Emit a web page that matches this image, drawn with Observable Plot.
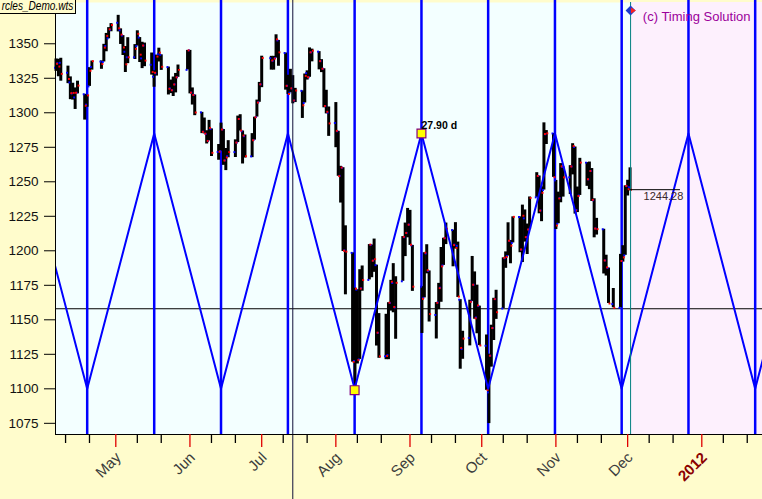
<!DOCTYPE html>
<html><head><meta charset="utf-8">
<script src="https://cdn.jsdelivr.net/npm/d3@7"></script>
<script src="https://cdn.jsdelivr.net/npm/@observablehq/plot@0.6"></script>
<style>
html,body{margin:0;padding:0;background:#FFFCCC;}
#wrap{position:relative;width:762px;height:499px;overflow:hidden;}
#file{position:absolute;left:0;top:0;width:75px;height:13px;border-right:1px solid #000;border-bottom:1px solid #000;background:#FFFCCC;overflow:hidden;font:italic 12px "Liberation Sans",Arial,sans-serif;line-height:12px;white-space:nowrap;color:#000;}
#file span{position:absolute;right:2px;top:0;transform:scaleX(0.84);transform-origin:right center;}
</style></head><body>
<div id="wrap"></div>
<script>
// ---- Daily bars (S&P 500, Apr 6 – Dec 2, 2011) ----
const dates = [
"2011-04-06","2011-04-07","2011-04-08","2011-04-11","2011-04-12","2011-04-13","2011-04-14","2011-04-15","2011-04-18","2011-04-19","2011-04-20","2011-04-21","2011-04-25","2011-04-26","2011-04-27","2011-04-28","2011-04-29",
"2011-05-02","2011-05-03","2011-05-04","2011-05-05","2011-05-06","2011-05-09","2011-05-10","2011-05-11","2011-05-12","2011-05-13","2011-05-16","2011-05-17","2011-05-18","2011-05-19","2011-05-20","2011-05-23","2011-05-24","2011-05-25","2011-05-26","2011-05-27","2011-05-31",
"2011-06-01","2011-06-02","2011-06-03","2011-06-06","2011-06-07","2011-06-08","2011-06-09","2011-06-10","2011-06-13","2011-06-14","2011-06-15","2011-06-16","2011-06-17","2011-06-20","2011-06-21","2011-06-22","2011-06-23","2011-06-24","2011-06-27","2011-06-28","2011-06-29","2011-06-30",
"2011-07-01","2011-07-05","2011-07-06","2011-07-07","2011-07-08","2011-07-11","2011-07-12","2011-07-13","2011-07-14","2011-07-15","2011-07-18","2011-07-19","2011-07-20","2011-07-21","2011-07-22","2011-07-25","2011-07-26","2011-07-27","2011-07-28","2011-07-29",
"2011-08-01","2011-08-02","2011-08-03","2011-08-04","2011-08-05","2011-08-08","2011-08-09","2011-08-10","2011-08-11","2011-08-12","2011-08-15","2011-08-16","2011-08-17","2011-08-18","2011-08-19","2011-08-22","2011-08-23","2011-08-24","2011-08-25","2011-08-26","2011-08-29","2011-08-30","2011-08-31",
"2011-09-01","2011-09-02","2011-09-06","2011-09-07","2011-09-08","2011-09-09","2011-09-12","2011-09-13","2011-09-14","2011-09-15","2011-09-16","2011-09-19","2011-09-20","2011-09-21","2011-09-22","2011-09-23","2011-09-26","2011-09-27","2011-09-28","2011-09-29","2011-09-30",
"2011-10-03","2011-10-04","2011-10-05","2011-10-06","2011-10-07","2011-10-10","2011-10-11","2011-10-12","2011-10-13","2011-10-14","2011-10-17","2011-10-18","2011-10-19","2011-10-20","2011-10-21","2011-10-24","2011-10-25","2011-10-26","2011-10-27","2011-10-28","2011-10-31",
"2011-11-01","2011-11-02","2011-11-03","2011-11-04","2011-11-07","2011-11-08","2011-11-09","2011-11-10","2011-11-11","2011-11-14","2011-11-15","2011-11-16","2011-11-17","2011-11-18","2011-11-21","2011-11-22","2011-11-23","2011-11-25","2011-11-28","2011-11-29","2011-11-30",
"2011-12-01","2011-12-02"];
const open = [
1332.6,1335.9,1336.2,1329.0,1322.0,1314.0,1311.1,1314.5,1313.4,1305.9,1319.1,1333.2,1337.1,1336.8,1348.4,1353.9,1360.1,
1365.2,1359.8,1355.9,1344.2,1340.2,1340.2,1348.3,1354.5,1339.4,1348.7,1334.8,1326.1,1328.5,1342.4,1342.0,1333.1,1317.7,1316.4,1320.6,1325.7,1331.1,
1345.2,1314.6,1312.9,1300.3,1286.3,1284.6,1279.6,1288.3,1271.6,1272.2,1287.9,1265.5,1268.6,1271.5,1278.4,1295.5,1286.6,1283.0,1268.4,1280.2,1296.9,1307.6,
1320.6,1339.6,1337.6,1339.6,1352.4,1343.3,1319.6,1314.5,1317.7,1308.9,1315.9,1307.1,1328.7,1325.7,1343.8,1344.3,1337.4,1331.9,1304.8,1300.1,
1292.6,1286.6,1254.3,1260.2,1200.3,1198.5,1120.2,1171.8,1121.3,1172.9,1178.9,1204.2,1192.9,1189.6,1140.5,1123.6,1124.4,1162.2,1176.7,1158.9,1177.9,1209.8,1213.0,
1219.1,1203.9,1174.0,1165.9,1198.0,1185.4,1153.5,1162.6,1173.3,1189.4,1209.2,1215.0,1204.5,1203.6,1164.6,1128.8,1136.9,1163.3,1175.4,1151.7,1159.9,
1131.2,1097.4,1124.0,1144.1,1165.0,1158.2,1194.6,1196.2,1207.0,1205.7,1224.5,1200.8,1223.5,1209.9,1215.4,1238.7,1254.2,1229.2,1244.0,1284.4,1285.0,
1251.0,1219.6,1238.3,1260.8,1253.2,1261.1,1275.2,1229.6,1240.1,1263.9,1251.7,1257.8,1236.6,1216.2,1215.6,1193.0,1187.5,1161.4,1158.7,1192.6,1196.7,
1246.9,1246.0];
const high = [
1339.0,1338.8,1339.5,1333.8,1326.0,1321.4,1318.0,1322.9,1313.4,1312.7,1332.7,1337.5,1337.6,1349.6,1357.5,1361.7,1364.6,
1370.6,1360.8,1355.9,1348.0,1354.4,1349.4,1359.4,1354.5,1351.1,1350.5,1343.3,1330.4,1341.8,1346.8,1342.0,1333.1,1323.7,1325.9,1328.5,1334.6,1345.2,
1345.2,1318.0,1312.9,1300.3,1296.2,1287.0,1294.5,1288.3,1277.0,1292.5,1287.9,1274.1,1279.8,1280.4,1297.6,1298.6,1286.8,1283.9,1284.9,1296.8,1309.2,1322.0,
1341.0,1340.9,1340.9,1356.5,1352.4,1343.3,1327.2,1331.5,1326.9,1317.7,1315.9,1328.1,1330.4,1347.0,1346.1,1344.3,1338.5,1331.9,1316.3,1304.2,
1307.4,1286.6,1261.2,1260.2,1218.1,1198.5,1172.9,1171.8,1186.3,1189.0,1204.5,1204.2,1208.5,1189.6,1154.5,1154.0,1162.4,1178.6,1190.7,1181.2,1210.3,1220.1,1230.7,
1229.3,1203.9,1174.0,1198.6,1204.4,1185.4,1162.5,1176.4,1202.4,1209.1,1220.1,1215.0,1220.4,1206.3,1164.6,1141.7,1164.2,1195.9,1184.7,1175.1,1159.9,
1139.0,1125.1,1146.1,1165.6,1171.4,1194.9,1199.2,1220.3,1207.5,1224.6,1224.6,1233.1,1229.6,1219.4,1239.0,1256.6,1254.2,1246.3,1292.7,1287.1,1285.0,
1251.0,1242.5,1263.2,1260.8,1261.7,1277.6,1275.2,1246.2,1267.0,1263.9,1264.3,1259.6,1237.7,1223.5,1215.6,1196.8,1187.5,1172.7,1197.4,1203.7,1247.1,
1251.1,1260.1];
const low = [
1330.0,1326.1,1322.9,1321.1,1309.5,1309.2,1302.4,1313.7,1294.7,1304.0,1319.1,1330.9,1331.5,1336.8,1344.2,1353.6,1358.7,
1358.6,1349.5,1341.5,1329.2,1335.6,1338.6,1348.3,1336.4,1332.0,1333.4,1327.3,1318.5,1326.6,1336.8,1330.7,1312.9,1313.9,1311.8,1314.4,1325.7,1331.1,
1313.7,1305.6,1297.9,1284.9,1284.7,1277.4,1279.6,1268.3,1265.6,1272.2,1261.9,1258.1,1267.4,1267.6,1278.4,1286.8,1262.9,1267.2,1267.5,1280.2,1296.9,1307.6,
1318.2,1330.9,1330.9,1339.6,1333.7,1316.4,1313.3,1314.5,1306.5,1307.4,1295.9,1307.1,1323.7,1325.7,1336.9,1331.1,1329.1,1303.6,1299.2,1282.9,
1274.7,1254.0,1234.6,1199.5,1168.1,1119.3,1101.5,1118.0,1121.3,1170.7,1178.9,1180.5,1184.4,1131.0,1122.1,1121.1,1121.1,1156.3,1155.1,1135.9,1177.9,1195.8,1209.4,
1203.9,1170.6,1140.1,1165.9,1183.3,1148.4,1136.1,1157.4,1162.7,1189.4,1204.5,1188.4,1201.3,1166.2,1114.2,1121.4,1131.1,1163.3,1150.4,1139.9,1131.3,
1098.9,1074.8,1115.7,1135.0,1150.3,1158.2,1187.3,1196.2,1190.6,1205.7,1198.6,1191.5,1206.3,1197.3,1215.4,1238.7,1226.8,1221.1,1244.0,1277.0,1253.2,
1215.4,1219.6,1234.8,1238.9,1240.8,1255.0,1226.6,1227.7,1240.1,1246.7,1244.3,1235.7,1209.4,1211.4,1183.2,1181.7,1161.8,1158.7,1158.7,1191.8,1196.7,
1239.7,1243.4];
const close = [
1335.5,1333.5,1328.2,1324.5,1314.2,1314.4,1314.5,1319.7,1305.1,1312.6,1330.4,1337.4,1335.3,1347.2,1355.7,1360.5,1363.6,
1361.2,1356.6,1347.3,1335.1,1340.2,1346.3,1357.2,1342.1,1348.7,1337.8,1329.5,1329.0,1340.7,1343.6,1333.3,1317.4,1316.3,1320.5,1325.7,1331.1,1345.2,
1314.6,1312.9,1300.2,1286.2,1284.9,1279.6,1289.0,1271.0,1271.8,1287.9,1265.4,1267.6,1271.5,1278.4,1295.5,1287.1,1283.5,1268.5,1280.1,1296.7,1307.4,1320.6,
1339.7,1337.9,1339.2,1353.2,1343.8,1319.5,1313.6,1317.7,1308.9,1316.1,1305.4,1326.7,1325.8,1343.8,1345.0,1337.4,1331.9,1304.9,1300.7,1292.3,
1286.9,1254.1,1260.3,1200.1,1199.4,1119.5,1172.5,1120.8,1172.6,1178.8,1204.5,1192.8,1193.9,1140.7,1123.5,1123.8,1162.4,1177.6,1159.3,1176.8,1210.1,1212.9,1218.9,
1204.4,1174.0,1165.2,1198.6,1185.9,1154.2,1162.3,1172.9,1188.7,1209.1,1216.0,1204.1,1202.1,1166.8,1129.6,1136.4,1163.0,1175.4,1151.1,1160.4,1131.4,
1099.2,1124.0,1144.0,1165.0,1155.5,1194.9,1195.5,1207.3,1203.7,1224.6,1200.9,1225.4,1209.9,1215.4,1238.3,1254.2,1229.1,1242.0,1284.6,1285.1,1253.3,
1218.3,1237.9,1261.2,1253.2,1261.1,1275.9,1229.1,1239.7,1263.9,1251.8,1257.8,1236.9,1216.1,1215.7,1193.0,1188.0,1161.8,1158.7,1192.6,1195.2,1247.0,
1244.6,1244.3];

// ---- Cycle (triangle wave, 27.90 d half-cycle) turning points ----
const cycleDates = ["2011-03-22T03:36:00Z","2011-04-19T01:00:00Z","2011-05-17T01:26:00Z","2011-06-13T23:45:00Z","2011-07-11T23:02:00Z","2011-08-08T20:24:00Z","2011-09-05T19:00:00Z","2011-10-03T16:19:00Z","2011-10-31T14:38:00Z","2011-11-28T12:00:00Z","2011-12-26T10:19:00Z","2012-01-23T07:41:00Z","2012-02-20T02:24:00Z"];
const cycleValues = [1285,1100,1285,1100,1285,1100,1285,1100,1285,1100,1285,1100,1285];
const cycleLabel = "27.90 d";
const markerDates = ["2011-08-08T20:24:00Z","2011-09-05T19:00:00Z"];
const markerValues = [1099,1285];

// ---- Levels and annotations ----
const levelValue = 1158;
const cursorDate = "2011-07-14T00:00:00Z";
const forecastStart = "2011-12-02T05:30:00Z";
const lastCloseDates = ["2011-12-02T05:30:00Z","2011-12-23T02:00:00Z"];
const lastClose = 1244.28;
const fileName = "rcles_Demo.wts";
const copyright = "(c) Timing Solution";

// ---- Axes ----
const yTicks = [1075,1100,1125,1150,1175,1200,1225,1250,1275,1300,1325,1350];
const monthTicks = ["2011-05-01","2011-06-01","2011-07-01","2011-08-01","2011-09-01","2011-10-01","2011-11-01","2011-12-01"];
const monthLabels = ["May","Jun","Jul","Aug","Sep","Oct","Nov","Dec"];
const yearTick = "2012-01-01";
const yearLabel = "2012";
const minorTicks = ["2011-04-10","2011-04-20","2011-05-10","2011-05-20","2011-06-10","2011-06-20","2011-07-10","2011-07-20","2011-08-10","2011-08-20","2011-09-10","2011-09-20","2011-10-10","2011-10-20","2011-11-10","2011-11-20","2011-12-10","2011-12-20","2012-01-10","2012-01-20"];

const xDomain = [new Date("2011-04-05T18:58:00Z"), new Date("2012-01-26T09:07:00Z")];
const yDomain = [1066.9, 1379.9];

const P = s => new Date(s);
const bars = dates.map((d,i)=>({date:P(d), open:open[i], high:high[i], low:low[i], close:close[i]}));
const cycle = cycleDates.map((d,i)=>({date:P(d), value:cycleValues[i]}));
const inView = cycle.filter(d => d.date >= xDomain[0] && d.date <= xDomain[1]);
const markers = markerDates.map((d,i)=>({date:P(d), value:markerValues[i]}));
const months = monthTicks.map((d,i)=>({date:P(d), label:monthLabels[i]}));

const chart = Plot.plot({
  width: 762, height: 499,
  marginLeft: 55, marginRight: 0, marginTop: 2, marginBottom: 65,
  style: {background: "transparent", fontFamily: "'Liberation Sans', Arial, sans-serif", color: "#111", overflow: "visible"},
  x: {type: "utc", domain: xDomain, axis: null},
  y: {domain: yDomain},
  marks: [
    Plot.frame({fill: "#F3FFFF", stroke: null}),
    Plot.rect([forecastStart], {x1: d => P(d), x2: () => xDomain[1], fill: "#FDF0FD"}),
    Plot.ruleY([levelValue], {stroke: "#000", strokeWidth: 1}),
    Plot.ruleX(inView, {x: "date", stroke: "#0000FF", strokeWidth: 2.5, insetTop: -2}),
    Plot.ruleX(bars, {x: "date", y1: "low", y2: "high", stroke: "#000", strokeWidth: 3}),
    Plot.dot(bars, {x: "date", y: "open", symbol: "square", r: 1.1, fill: "#0000FF", stroke: null, dx: -1}),
    Plot.dot(bars, {x: "date", y: "close", symbol: "square", r: 1.1, fill: "#FF0000", stroke: null, dx: 1}),
    Plot.line(cycle, {x: "date", y: "value", stroke: "#0000FF", strokeWidth: 2, clip: true}),
    Plot.ruleX([forecastStart], {x: d => P(d), stroke: "#008080", strokeWidth: 1}),
    Plot.ruleX([cursorDate], {x: d => P(d), stroke: "#10103a", strokeWidth: 1, insetTop: -2, insetBottom: -65}),
    Plot.ruleY([lastClose], {x1: () => P(lastCloseDates[0]), x2: () => P(lastCloseDates[1]), stroke: "#000", strokeWidth: 1}),
    Plot.text([lastClose], {x: () => P(lastCloseDates[0]), y: d => d, text: d => d.toFixed(2), dx: 13, dy: 7, textAnchor: "start", fontSize: 11, fill: "#3a2828"}),
    Plot.dot(markers, {x: "date", y: "value", symbol: "square", r: 5, fill: "#FFFF00", stroke: "#800080", strokeWidth: 1.2}),
    Plot.text([markers[1]], {x: "date", y: "value", text: () => cycleLabel, dx: 0, dy: -8, textAnchor: "start", fontSize: 10.5, fontWeight: "bold", fill: "#000"}),
    Plot.dot([forecastStart], {x: d => P(d), frameAnchor: "top", dy: 8, symbol: "diamond2", r: 4.5, fill: "#1a3ccc", stroke: null}),
    Plot.dot([forecastStart], {x: d => P(d), frameAnchor: "top", dy: 8, dx: 2, symbol: "triangle", rotate: 90, r: 2.2, fill: "#ff2020", stroke: null}),
    Plot.text([copyright], {text: d => d, frameAnchor: "top-right", dx: -12, dy: 9, textAnchor: "end", fontSize: 13, fill: "#9B009B"}),
    Plot.ruleX([xDomain[0]], {stroke: "#000", strokeWidth: 1}),
    Plot.ruleY([yDomain[0]], {stroke: "#000", strokeWidth: 1}),
    Plot.axisY({ticks: yTicks, tickFormat: d => String(d), tickSize: 11, tickPadding: 6, fontSize: 13.5, label: null, stroke: "#000"}),
    Plot.ruleX(minorTicks, {x: d => P(d), stroke: "#000", strokeWidth: 1.3, insetTop: 432, insetBottom: -9}),
    Plot.ruleX([...monthTicks, yearTick], {x: d => P(d), stroke: "#E00000", strokeWidth: 1.3, insetTop: 432, insetBottom: -13}),
    Plot.text(months, {x: "date", text: "label", frameAnchor: "bottom", dx: 6, dy: 24, rotate: -45, textAnchor: "end", fontSize: 15, fill: "#3c3c3c"}),
    Plot.text([yearTick], {x: d => P(d), text: () => yearLabel, frameAnchor: "bottom", dx: 6, dy: 24, rotate: -45, textAnchor: "end", fontSize: 15, fontWeight: "bold", fill: "#8B0000"})
  ]
});
const wrap = document.getElementById("wrap");
wrap.appendChild(chart);
const f = document.createElement("div");
f.id = "file";
const sp = document.createElement("span");
sp.textContent = fileName;
f.appendChild(sp);
wrap.appendChild(f);
</script>
</body></html>
